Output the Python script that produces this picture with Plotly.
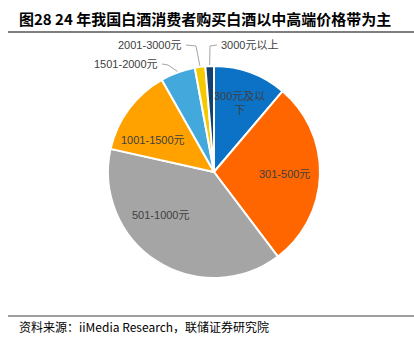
import math
import plotly.graph_objects as go

categories = ["300元及以下", "301-500元", "501-1000元", "1001-1500元", "1501-2000元", "2001-3000元", "3000元以上"]
display_text = ["300元及以<br>下", "301-500元", "501-1000元", "1001-1500元", "1501-2000元", "2001-3000元", "3000元以上"]
shares = [11.2, 28.5, 38.8, 13.3, 5.3, 1.6, 1.3]
colors = ["#0B72C6", "#FF6600", "#A5A5A5", "#FFA200", "#43A8DC", "#F4C900", "#143F6E"]

# styling: label placement (inside labels: radius fraction, angle nudge in deg)
inside_place = {0: (0.69, 0), 1: (0.67, 0), 2: (0.645, 18), 3: (0.65, -9)}
# outside labels: (label x px, label y px, anchor, elbow x px)
outside_place = {4: (162, 64, "right", 168), 5: (186, 45, "right", 196), 6: (217, 45, "left", 210)}

W, H = 414, 338
CX, CY, R = 214, 172, 106  # pie centre/radius in pixels
dom_x = [(CX - R) / W, (CX + R) / W]
dom_y = [1 - (CY + R) / H, 1 - (CY - R) / H]

fig = go.Figure(go.Pie(
    labels=categories,
    values=shares,
    textinfo="none",
    sort=False,
    direction="clockwise",
    rotation=0,
    marker=dict(colors=colors, line=dict(color="white", width=2)),
    domain=dict(x=dom_x, y=dom_y),
    showlegend=False,
    hoverinfo="label+percent",
))

FONT = "Liberation Sans, Arial, Noto Sans CJK SC"
total = sum(shares)
cum = 0.0
for i, v in enumerate(shares):
    mid = (cum + v / 2) / total * 360.0
    cum += v
    if i in inside_place:
        frac, nudge = inside_place[i]
        a = math.radians(mid + nudge)
        px = CX + frac * R * math.sin(a)
        py = CY - frac * R * math.cos(a)
        fig.add_annotation(text=display_text[i], xref="paper", yref="paper",
                           x=px / W, y=1 - py / H, xanchor="center", yanchor="middle",
                           showarrow=False, font=dict(family=FONT, size=11, color="#404040"))
    else:
        lx, ly, anchor, ex = outside_place[i]
        a = math.radians(mid)
        edge_x = CX + (R + 1) * math.sin(a)
        edge_y = CY - (R + 1) * math.cos(a)
        fig.add_annotation(text=display_text[i], xref="paper", yref="paper",
                           x=lx / W, y=1 - ly / H, xanchor=anchor, yanchor="middle",
                           xshift=-2 if anchor == "right" else 2,
                           showarrow=False, font=dict(family=FONT, size=11, color="#404040"))
        path = "M {:.4f},{:.4f} L {:.4f},{:.4f} L {:.4f},{:.4f}".format(
            lx / W, 1 - ly / H, ex / W, 1 - (ly + 1) / H, edge_x / W, 1 - edge_y / H)
        fig.add_shape(type="path", xref="paper", yref="paper", path=path,
                      line=dict(color="#A6A6A6", width=1))

fig.add_annotation(
    text="<b>图28 24 年我国白酒消费者购买白酒以中高端价格带为主</b>",
    xref="paper", yref="paper", x=17 / W, y=1 - 18 / H, xanchor="left", yanchor="middle",
    showarrow=False, font=dict(family="Noto Sans CJK SC", size=15, color="#000000"))
fig.add_annotation(
    text="资料来源：iiMedia Research，联储证券研究院",
    xref="paper", yref="paper", x=17 / W, y=1 - 326 / H, xanchor="left", yanchor="middle",
    showarrow=False, font=dict(family="Noto Sans CJK SC, Liberation Sans", size=12, color="#000000"))

fig.add_shape(type="line", xref="paper", yref="paper", x0=8 / W, x1=1, y0=1 - 32 / H, y1=1 - 32 / H,
              line=dict(color="#7F7F7F", width=2))
fig.add_shape(type="line", xref="paper", yref="paper", x0=8 / W, x1=1, y0=1 - 316 / H, y1=1 - 316 / H,
              line=dict(color="#7F7F7F", width=1.5))

fig.update_layout(
    width=W, height=H,
    margin=dict(l=0, r=0, t=0, b=0),
    paper_bgcolor="white", plot_bgcolor="white",
)

fig.write_html("out.html")
